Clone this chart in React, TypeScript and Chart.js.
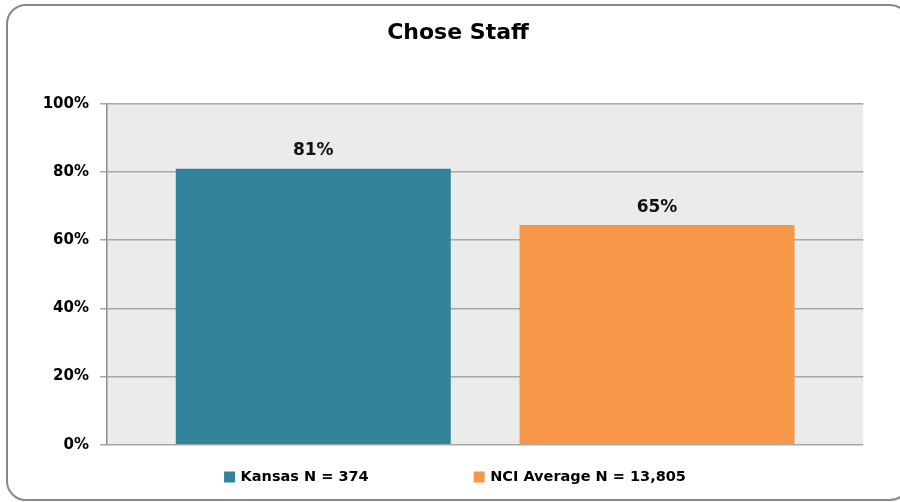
import React, { useEffect, useRef } from "react";
import { Chart, registerables } from "chart.js";

Chart.register(...registerables);

const chartTitle = "Chose Staff";
const categories = ["Chose Staff"];
const seriesNames = ["Kansas N = 374", "NCI Average N = 13,805"];
const seriesValues = [[80.9], [64.4]];
const valueLabels = ["81%", "65%"];
const seriesColors = ["#31849b", "#f79646"];
const yTicks = [0, 20, 40, 60, 80, 100];

const FONT = '"DejaVu Sans", sans-serif';

const plotBg = {
  id: "plotBg",
  beforeDraw(chart: any) {
    const { ctx, chartArea } = chart;
    ctx.save();
    ctx.fillStyle = "#ebebeb";
    ctx.fillRect(chartArea.left, chartArea.top, chartArea.right - chartArea.left, chartArea.bottom - chartArea.top);
    ctx.restore();
  },
};

const barLabels = {
  id: "barLabels",
  afterDatasetsDraw(chart: any) {
    const { ctx } = chart;
    ctx.save();
    ctx.font = `bold 17px ${FONT}`;
    ctx.fillStyle = "#111";
    ctx.textAlign = "center";
    ctx.textBaseline = "middle";
    chart.data.datasets.forEach((ds: any, i: number) => {
      const meta = chart.getDatasetMeta(i);
      meta.data.forEach((bar: any) => {
        ctx.fillText(valueLabels[i], bar.x, bar.y - 18);
      });
    });
    ctx.restore();
  },
};

const customLegend = {
  id: "customLegend",
  afterDraw(chart: any) {
    const { ctx } = chart;
    ctx.save();
    ctx.font = `bold 14.5px ${FONT}`;
    ctx.textBaseline = "middle";
    ctx.textAlign = "left";
    const box = 11;
    const gapText = 5.5;
    const gapItems = 105;
    const items = chart.data.datasets.map((ds: any) => ({
      text: ds.label,
      color: ds.backgroundColor,
      w: box + gapText + ctx.measureText(ds.label).width,
    }));
    const total = items.reduce((s: number, it: any) => s + it.w, 0) + gapItems * (items.length - 1);
    let x = 455 - total / 2;
    const cy = 477;
    items.forEach((it: any) => {
      ctx.fillStyle = it.color;
      ctx.fillRect(x, cy - box / 2, box, box);
      ctx.fillStyle = "#000";
      ctx.fillText(it.text, x + box + gapText, cy + 0.5);
      x += it.w + gapItems;
    });
    ctx.restore();
  },
};

export default function App() {
  const ref = useRef<HTMLCanvasElement | null>(null);

  useEffect(() => {
    if (!ref.current) return;
    const chart = new Chart(ref.current, {
      type: "bar",
      data: {
        labels: categories,
        datasets: seriesNames.map((name, i) => ({
          label: name,
          data: seriesValues[i],
          backgroundColor: seriesColors[i],
          borderWidth: 0,
          categoryPercentage: 0.909,
          barPercentage: 0.8,
        })),
      },
      options: {
        animation: false,
        responsive: true,
        maintainAspectRatio: false,
        layout: { padding: { left: 0, right: 0, top: 0, bottom: 57.3 } },
        plugins: {
          legend: { display: false },
          tooltip: { enabled: false },
          title: {
            display: true,
            text: chartTitle,
            color: "#000",
            font: { family: FONT, size: 22, weight: "bold", lineHeight: 1.2 },
            padding: { top: 20.3, bottom: 57 },
          },
        },
        scales: {
          x: { display: false },
          y: {
            position: "left",
            min: 0,
            max: 100,
            afterFit: (scale: any) => {
              scale.width = 107;
            },
            afterBuildTicks: (scale: any) => {
              scale.ticks = yTicks.map((v) => ({ value: v }));
            },
            ticks: {
              padding: 11,
              color: "#000",
              font: { family: FONT, size: 15, weight: "bold" },
              callback: (v: any) => `${v}%`,
            },
            grid: {
              color: "#a8a8a8",
              lineWidth: 1.5,
              drawTicks: true,
              tickLength: 7,
            },
            border: { display: true, color: "#8c8c8c", width: 1.5 },
          },
          ySpacer: {
            type: "linear",
            position: "right",
            display: true,
            min: 0,
            max: 100,
            afterFit: (scale: any) => {
              scale.width = 52.7;
            },
            ticks: { display: false },
            grid: { display: false, drawTicks: false },
            border: { display: false },
          },
        },
      },
      plugins: [plotBg, barLabels, customLegend],
    });
    return () => chart.destroy();
  }, []);

  return (
    <div style={{ position: "fixed", left: 0, top: 0, width: 900, height: 502, overflow: "hidden", background: "#fff" }}>
      <div
        style={{
          position: "absolute",
          left: 6,
          top: 4,
          width: 900,
          height: 493,
          border: "2px solid #878787",
          borderRadius: 20,
          boxSizing: "content-box",
        }}
      />
      <div style={{ position: "absolute", left: 0, top: 0, width: 916, height: 502 }}>
        <canvas ref={ref} />
      </div>
    </div>
  );
}
